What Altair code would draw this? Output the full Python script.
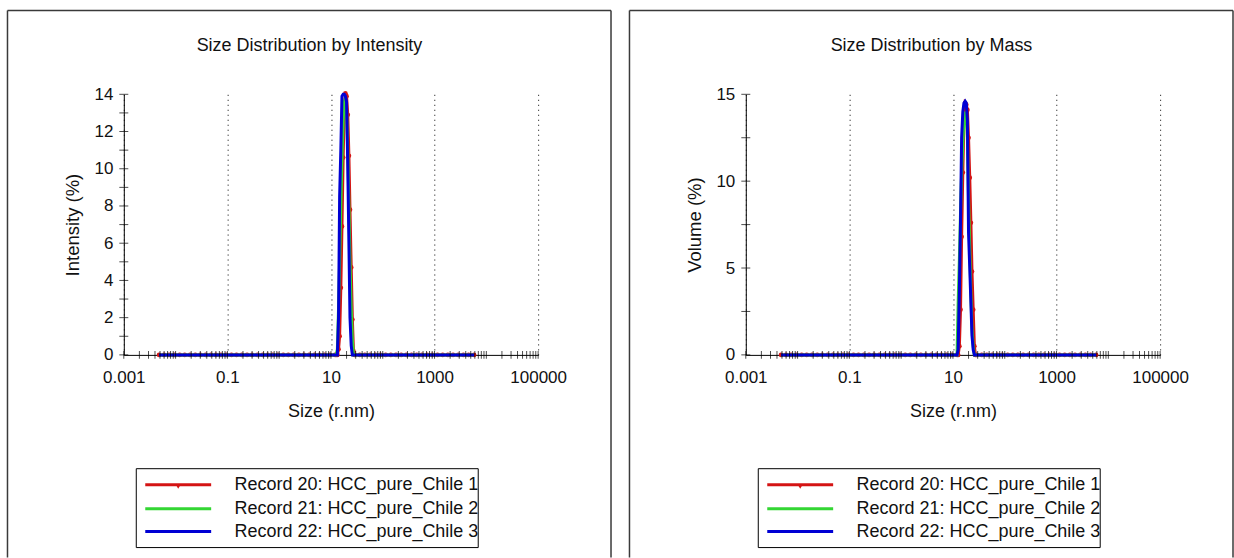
import altair as alt
import pandas as pd

FONT = "Liberation Sans"
FS = 17          # tick labels
FS_T = 18        # titles and legend
TXT = "#111111"

series_names = [
    "Record 20: HCC_pure_Chile 1",
    "Record 21: HCC_pure_Chile 2",
    "Record 22: HCC_pure_Chile 3",
]
series_colors = ["#d41414", "#33d633", "#0000d4"]

# sizes (r.nm) where every record sits at 0
base_left = [0.0048, 0.006, 0.0075, 0.0095, 0.012, 0.015, 0.019, 0.024, 0.03, 0.038,
             0.048, 0.06, 0.075, 0.095, 0.12, 0.15, 0.19, 0.24, 0.3, 0.38, 0.48, 0.6,
             0.75, 0.95, 1.2, 1.5, 1.9, 2.4, 3.0, 3.8, 4.8, 6.0, 7.5, 9.5, 12.0]
base_right = [28.6, 36, 45, 57, 72, 90, 114, 143, 180, 227, 286, 360, 453, 571, 719,
              905, 1140, 1435, 1807, 2275, 2865, 3607, 4541, 5800]

# sizes across the peak
peak_sizes = [12.6, 13.3, 14.0, 14.7, 15.5, 16.3, 17.2, 18.1, 19.0, 20.0, 21.1, 22.2,
              23.3, 24.6, 25.9, 27.2]

# Intensity (%)
int_red = [0.0, 0.0, 0.3, 1.0, 3.6, 6.9, 10.6, 13.3, 14.05, 13.9, 12.9, 10.7, 7.8, 4.7, 1.9, 0.2]
int_green = [0.0, 0.3, 2.5, 5.0, 8.0, 10.5, 12.6, 13.6, 13.8, 13.2, 11.0, 8.0, 5.0, 2.5, 0.8, 0.0]
int_blue = [0.0, 0.0, 2.0, 8.5, 11.0, 13.9, 14.0, 14.0, 13.9, 13.6, 10.2, 6.0, 2.0, 0.5, 0.0, 0.0]

# Volume (%)
mass_red = [0.0, 0.5, 2.6, 6.8, 10.5, 13.5, 14.5, 14.4, 14.1, 12.5, 10.2, 7.6, 4.8, 2.6, 0.5, 0.0]
mass_green = [3.0, 5.5, 8.2, 10.5, 12.2, 13.5, 14.0, 13.8, 12.5, 9.0, 6.0, 3.5, 1.5, 0.5, 0.0, 0.0]
mass_blue = [0.3, 3.7, 7.7, 12.5, 14.0, 14.5, 14.6, 14.5, 13.5, 7.0, 5.0, 3.0, 1.1, 0.3, 0.0, 0.0]

x_labels = [0.001, 0.1, 10, 1000, 100000]
x_minor = [m * 10.0 ** k for k in range(-3, 5) for m in range(1, 10)] + [100000]

int_labels = [0, 2, 4, 6, 8, 10, 12, 14]
int_ticks = list(range(0, 15))
mass_labels = [0, 5, 10, 15]
mass_ticks = [0, 2.5, 5, 7.5, 10, 12.5, 15]

W, H = 415, 261


def build_df(curves):
    rows = []
    for name, vals in zip(series_names, curves):
        for s in base_left:
            rows.append({"size": s, "value": 0.0, "series": name})
        for s, v in zip(peak_sizes, vals):
            rows.append({"size": s, "value": v, "series": name})
        for s in base_right:
            rows.append({"size": s, "value": 0.0, "series": name})
    return pd.DataFrame(rows)


def panel(df, title, ytitle, ymax, ylabels, yticks):
    xs = alt.Scale(type="log", domain=[0.001, 100000], nice=False)
    ys = alt.Scale(domain=[0, ymax], nice=False, zero=True)
    xaxis = alt.Axis(
        values=x_labels, format="~g", ticks=False, grid=True, gridDash=[1, 4],
        gridColor="black", gridOpacity=1, domainColor="black", labelFont=FONT,
        labelFontSize=FS, labelColor=TXT, labelPadding=15, labelFlush=False,
        labelOverlap=False, title="Size (r.nm)", titleFont=FONT, titleFontSize=FS_T,
        titleFontWeight="normal", titleColor=TXT, titlePadding=17)
    yaxis = alt.Axis(
        values=ylabels, ticks=False, grid=False, domainColor="black", labelFont=FONT,
        labelFontSize=FS, labelColor=TXT, labelPadding=11, title=ytitle,
        titleFont=FONT, titleFontSize=18.5, titleFontWeight="normal", titleColor=TXT,
        titlePadding=11)
    cscale = alt.Scale(domain=series_names, range=series_colors)
    frame_col = "#3a3a3a"

    layers = []
    # panel frame (open at the bottom) and panel title
    layers.append(alt.Chart().mark_rule(color=frame_col, strokeWidth=1.5).encode(
        x=alt.value(-116.5), x2=alt.value(488), y=alt.value(-84)))
    layers.append(alt.Chart().mark_rule(color=frame_col, strokeWidth=1.5).encode(
        x=alt.value(-116.5), y=alt.value(-84), y2=alt.value(464)))
    layers.append(alt.Chart().mark_rule(color=frame_col, strokeWidth=1.5).encode(
        x=alt.value(488), y=alt.value(-84), y2=alt.value(464)))
    layers.append(alt.Chart().mark_text(
        text=title, font=FONT, fontSize=FS_T, color=TXT, align="center", baseline="middle"
    ).encode(x=alt.value(186), y=alt.value(-48)))

    # data
    layers.append(alt.Chart(df).transform_filter(
        alt.datum.series == series_names[0]
    ).mark_circle(size=22, opacity=1, color=series_colors[0]).encode(
        x=alt.X("size:Q", scale=xs, axis=xaxis),
        y=alt.Y("value:Q", scale=ys, axis=yaxis),
    ))
    layers.append(alt.Chart(df).mark_line(strokeWidth=3).encode(
        x=alt.X("size:Q", scale=xs, axis=xaxis),
        y=alt.Y("value:Q", scale=ys, axis=yaxis),
        color=alt.Color("series:N", scale=cscale, legend=None),
        order=alt.Order("size:Q"),
    ))

    # crossing ticks on both axes
    layers.append(alt.Chart(pd.DataFrame({"t": x_minor})).mark_tick(
        orient="vertical", size=8, thickness=1, color="black"
    ).encode(x=alt.X("t:Q", scale=xs, axis=xaxis), y=alt.value(H)))
    layers.append(alt.Chart(pd.DataFrame({"t": yticks})).mark_tick(
        orient="horizontal", size=9, thickness=1, color="black"
    ).encode(y=alt.Y("t:Q", scale=ys, axis=yaxis), x=alt.value(0)))

    # legend box
    bx0, bx1, by0, by1 = 12.5, 355, 375, 454
    layers.append(alt.Chart().mark_rect(fill="white", stroke="black", strokeWidth=1).encode(
        x=alt.value(bx0), x2=alt.value(bx1), y=alt.value(by0), y2=alt.value(by1)))
    row_y = [391, 415, 438]
    for name, col, ry in zip(series_names, series_colors, row_y):
        layers.append(alt.Chart().mark_rule(color=col, strokeWidth=3).encode(
            x=alt.value(21.5), x2=alt.value(87.5), y=alt.value(ry)))
        layers.append(alt.Chart().mark_text(
            text=name, font=FONT, fontSize=FS_T, color=TXT, align="left", baseline="middle"
        ).encode(x=alt.value(111), y=alt.value(ry)))
    layers.append(alt.Chart().mark_point(
        shape="triangle-down", filled=True, size=22, color=series_colors[0], opacity=1
    ).encode(x=alt.value(54.5), y=alt.value(row_y[0] + 2)))

    return alt.layer(*layers).properties(width=W, height=H)


left = panel(build_df([int_red, int_green, int_blue]), "Size Distribution by Intensity",
             "Intensity (%)", 14, int_labels, int_ticks)
right = panel(build_df([mass_red, mass_green, mass_blue]), "Size Distribution by Mass",
              "Volume (%)", 15, mass_labels, mass_ticks)

chart = alt.hconcat(left, right, spacing=16).resolve_scale(
    color="independent", x="independent", y="independent"
).configure_view(stroke=None).properties(
    padding={"left": 6, "top": 9, "right": 0, "bottom": 0}, background="white")

chart.save("out.html", embed_options={"renderer": "svg", "actions": False})
